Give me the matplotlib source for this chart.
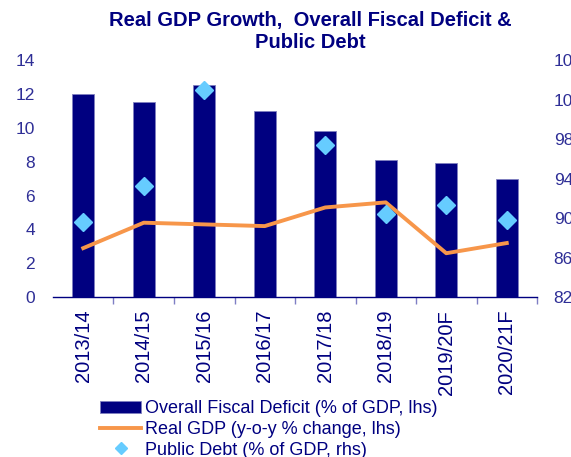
import matplotlib
matplotlib.use("Agg")
import matplotlib.pyplot as plt
from matplotlib.lines import Line2D
import numpy as np

plt.rcParams['font.family'] = ['Liberation Sans', 'DejaVu Sans']

years = ["2013/14", "2014/15", "2015/16", "2016/17", "2017/18", "2018/19", "2019/20F", "2020/21F"]
fiscal_deficit = [12.0, 11.5, 12.5, 11.0, 9.8, 8.1, 7.9, 7.0]
real_gdp = [2.9, 4.4, 4.3, 4.2, 5.3, 5.6, 2.6, 3.2]
public_debt = [89.6, 93.3, 103.0, 108.0, 97.4, 90.4, 91.3, 89.8]

navy = "#000080"
label_blue = "#2e2e96"
orange = "#f7964a"
sky = "#66ccff"

fig = plt.figure(figsize=(5.71, 4.57), dpi=100)
ax = fig.add_axes([0.0928, 0.3495, 0.8477, 0.5192])
ax2 = ax.twinx()

x = np.arange(len(years))
bars = ax.bar(x, fiscal_deficit, width=0.36, color=navy, edgecolor="#8080c0",
              linewidth=0.6, label="Overall Fiscal Deficit (% of GDP, lhs)", zorder=2)
line, = ax.plot(x, real_gdp, color=orange, linewidth=2.8,
                label="Real GDP (y-o-y % change, lhs)", zorder=3)
pts, = ax2.plot(x, public_debt, linestyle="none", marker="D", markersize=9,
                color=sky, label="Public Debt (% of GDP, rhs)")

ax.set_xlim(-0.5, len(years) - 0.5)
ax.set_ylim(0, 14)
ax.set_yticks(np.arange(0, 15, 2))
ax2.set_ylim(82, 106)
ax2.set_yticks(np.arange(82, 107, 4))

for a in (ax, ax2):
    for s in ("top", "left", "right", "bottom"):
        a.spines[s].set_visible(False)
ax.spines["bottom"].set_visible(True)
ax.spines["bottom"].set_color(navy)
ax.spines["bottom"].set_linewidth(1.0)

ax.set_xticks(x)
ax.set_xticklabels(years, rotation=90, fontsize=14.5, color=navy)
ax.set_xticks(np.arange(0.5, len(years) - 0.5 + 0.01, 1), minor=True)
ax.tick_params(axis="x", which="major", length=0, pad=9)
ax.tick_params(axis="x", which="minor", length=5, color="#7f7fc4", width=1)
ax.tick_params(axis="y", length=0, pad=13, labelsize=12.5, labelcolor=label_blue)
ax2.tick_params(axis="y", length=0, pad=12, labelsize=12.5, labelcolor=label_blue)

fig.text(0.543, 0.975, "Real GDP Growth,  Overall Fiscal Deficit &\nPublic Debt",
         ha="center", va="top", fontsize=14.5, fontweight="bold", color=navy,
         linespacing=1.2)

# smaller diamond in legend, as in the original
debt_handle = Line2D([], [], linestyle="none", marker="D", markersize=6, color=sky)
leg = fig.legend([bars, line, debt_handle],
                 [bars.get_label(), line.get_label(), pts.get_label()],
                 loc="upper left", bbox_to_anchor=(0.175, 0.124), frameon=False,
                 fontsize=13, handlelength=2.3, handletextpad=0.2, labelspacing=0.2,
                 borderpad=0, borderaxespad=0)
for t in leg.get_texts():
    t.set_color(navy)

fig.savefig("out.png", dpi=100)
